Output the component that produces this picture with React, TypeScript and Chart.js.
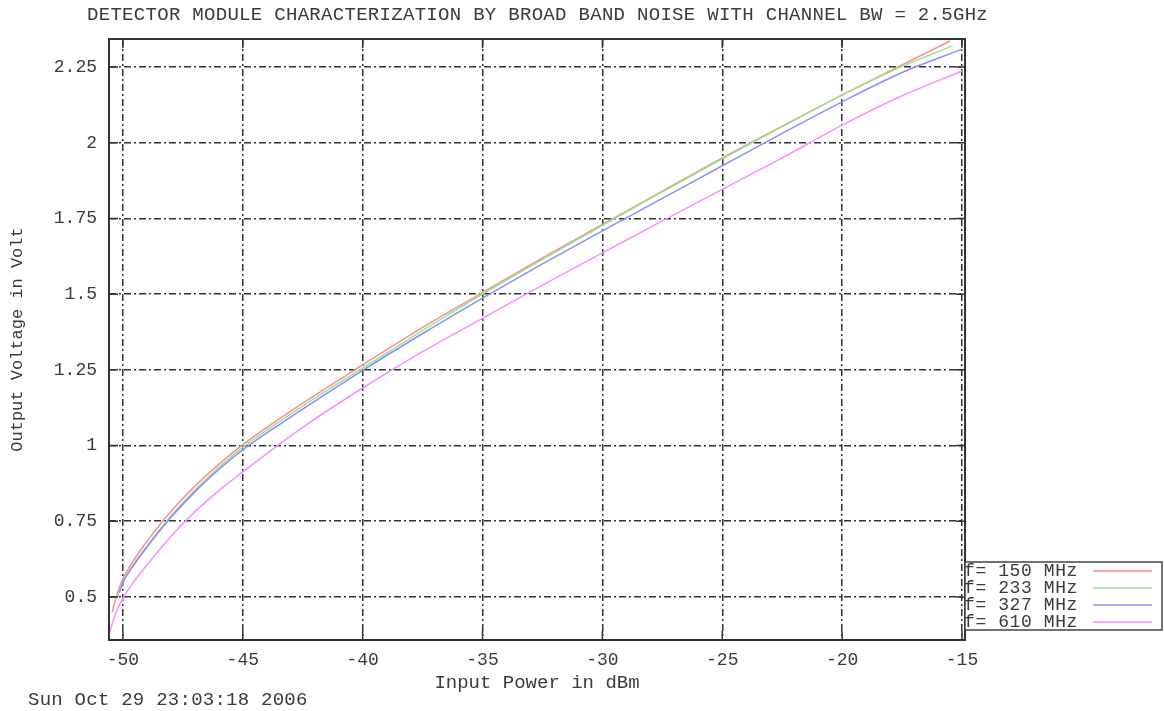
import React, { useEffect, useRef } from "react";
import { Chart, registerables } from "chart.js";

Chart.register(...registerables);

const TITLE = "DETECTOR MODULE CHARACTERIZATION BY BROAD BAND NOISE WITH CHANNEL BW = 2.5GHz";
const X_LABEL = "Input Power in dBm";
const Y_LABEL = "Output Voltage in Volt";
const TIMESTAMP = "Sun Oct 29 23:03:18 2006";

// Axis ticks
const xTicks = [-50, -45, -40, -35, -30, -25, -20, -15];
const yTicks = [0.5, 0.75, 1, 1.25, 1.5, 1.75, 2, 2.25];
const yTickLabels = ["0.5", "0.75", "1", "1.25", "1.5", "1.75", "2", "2.25"];

// Series labels and colours
const seriesNames = ["f= 150 MHz", "f= 233 MHz", "f= 327 MHz", "f= 610 MHz"];
const seriesColors = ["#ff8c8c", "#8ce88c", "#8c8cff", "#ff8cff"];

// f = 150 MHz
const power150 = [-50.45, -50.2, -50, -49.5, -49, -48, -47, -46, -45, -42.5, -40, -37.5, -35, -32.5, -30, -27.5, -25, -22.5, -20, -17.5, -15.5];
const volt150 = [0.45, 0.52, 0.56, 0.627, 0.683, 0.782, 0.866, 0.938, 1.003, 1.14, 1.266, 1.39, 1.505, 1.62, 1.73, 1.84, 1.95, 2.055, 2.158, 2.257, 2.336];

// f = 233 MHz
const power233 = [-50.22, -50, -49.5, -49, -48, -47, -46, -45, -42.5, -40, -37.5, -35, -32.5, -30, -27.5, -25, -22.5, -20, -17.5, -15.4];
const volt233 = [0.5, 0.55, 0.614, 0.668, 0.767, 0.853, 0.928, 0.994, 1.13, 1.256, 1.38, 1.5, 1.615, 1.727, 1.838, 1.947, 2.053, 2.157, 2.252, 2.32];

// f = 327 MHz
const power327 = [-50.15, -50, -49.5, -49, -48, -47, -46, -45, -42.5, -40, -37.5, -35, -32.5, -30, -27.5, -25, -22.5, -20, -17.5, -15];
const volt327 = [0.515, 0.548, 0.61, 0.664, 0.762, 0.847, 0.921, 0.986, 1.12, 1.248, 1.37, 1.487, 1.6, 1.709, 1.816, 1.924, 2.031, 2.135, 2.232, 2.309];

// f = 610 MHz
const power610 = [-50.55, -50.3, -50, -49.5, -49, -48, -47, -46, -45, -42.5, -40, -37.5, -35, -32.5, -30, -27.5, -25, -22.5, -20, -17.5, -15];
const volt610 = [0.385, 0.445, 0.495, 0.555, 0.605, 0.7, 0.781, 0.851, 0.913, 1.06, 1.19, 1.31, 1.42, 1.53, 1.636, 1.742, 1.846, 1.95, 2.058, 2.155, 2.237];

const powers = [power150, power233, power327, power610];
const volts = [volt150, volt233, volt327, volt610];

const MONO = '"Liberation Mono", "Courier New", monospace';
const INK = "#3a3a3a";

// Frame, inward tick marks, title, timestamp and key box
const decorations = {
  id: "decorations",
  afterDraw(chart: any) {
    const { ctx, chartArea: a, scales } = chart;
    const xs = scales.x;
    const ys = scales.y;
    ctx.save();

    // plot frame
    ctx.strokeStyle = "#333";
    ctx.lineWidth = 2;
    ctx.setLineDash([]);
    ctx.strokeRect(a.left, a.top, a.right - a.left, a.bottom - a.top);

    // mirrored inward tick marks
    const tl = 9;
    ctx.lineWidth = 1.5;
    ctx.beginPath();
    xTicks.forEach((v) => {
      const px = xs.getPixelForValue(v);
      ctx.moveTo(px, a.bottom);
      ctx.lineTo(px, a.bottom - tl);
      ctx.moveTo(px, a.top);
      ctx.lineTo(px, a.top + tl);
    });
    yTicks.forEach((v) => {
      const py = ys.getPixelForValue(v);
      ctx.moveTo(a.left, py);
      ctx.lineTo(a.left + tl, py);
      ctx.moveTo(a.right, py);
      ctx.lineTo(a.right - tl, py);
    });
    ctx.stroke();

    // title
    ctx.fillStyle = INK;
    ctx.font = `19px ${MONO}`;
    ctx.textBaseline = "middle";
    (ctx as any).letterSpacing = "0.3px";
    ctx.textAlign = "left";
    ctx.fillText(TITLE, 87, 15);

    // timestamp
    (ctx as any).letterSpacing = "0.25px";
    ctx.fillText(TIMESTAMP, 28, 700);
    (ctx as any).letterSpacing = "0px";

    // key
    const kx0 = 965;
    const ky0 = 562;
    const kx1 = 1162;
    const ky1 = 630;
    ctx.fillStyle = "#fff";
    ctx.fillRect(kx0, ky0, kx1 - kx0, ky1 - ky0);
    ctx.strokeStyle = "#444";
    ctx.lineWidth = 1.5;
    ctx.strokeRect(kx0, ky0, kx1 - kx0, ky1 - ky0);
    const rowY = [571, 588, 605, 622];
    ctx.font = `18px ${MONO}`;
    (ctx as any).letterSpacing = "0.6px";
    seriesNames.forEach((name, i) => {
      ctx.fillStyle = INK;
      ctx.fillText(name, 964, rowY[i]);
      ctx.strokeStyle = seriesColors[i];
      ctx.lineWidth = 1.5;
      ctx.beginPath();
      ctx.moveTo(1093, rowY[i]);
      ctx.lineTo(1152, rowY[i]);
      ctx.stroke();
    });
    (ctx as any).letterSpacing = "0px";

    ctx.restore();
  },
};

export default function App() {
  const canvasRef = useRef<HTMLCanvasElement | null>(null);

  useEffect(() => {
    document.body.style.margin = "0";
    const canvas = canvasRef.current;
    if (!canvas) return;

    const datasets = seriesNames.map((name, i) => ({
      label: name,
      data: powers[i].map((p, j) => ({ x: p, y: volts[i][j] })),
      borderColor: seriesColors[i],
      backgroundColor: seriesColors[i],
      borderWidth: 1.5,
      pointRadius: 0,
      fill: false,
      cubicInterpolationMode: "monotone" as const,
      order: 4 - i,
    }));

    const gridStyle = {
      color: "#333",
      lineWidth: 1.5,
      drawTicks: false,
    };

    const chart = new Chart(canvas, {
      type: "line",
      data: { datasets },
      options: {
        animation: false,
        responsive: false,
        events: [],
        layout: { padding: { top: 39, right: 199, bottom: 0, left: 0 } },
        plugins: {
          legend: { display: false },
          title: { display: false },
          tooltip: { enabled: false },
        },
        scales: {
          x: {
            type: "linear",
            min: -50.58,
            max: -14.875,
            afterFit: (scale: any) => {
              scale.height = 71;
            },
            afterBuildTicks: (scale: any) => {
              scale.ticks = xTicks.map((v) => ({ value: v }));
            },
            grid: gridStyle,
            border: { display: false, dash: [7, 3, 2, 3] },
            ticks: {
              padding: 9,
              color: INK,
              font: { family: MONO, size: 18 },
              maxRotation: 0,
              callback: (v: any) => String(v),
            },
            title: {
              display: true,
              text: X_LABEL,
              color: INK,
              font: { family: MONO, size: 19 },
              padding: { top: 0, bottom: 17 },
            },
          },
          y: {
            type: "linear",
            min: 0.3578,
            max: 2.3426,
            afterFit: (scale: any) => {
              scale.width = 109;
            },
            afterBuildTicks: (scale: any) => {
              scale.ticks = yTicks.map((v) => ({ value: v }));
            },
            grid: gridStyle,
            border: { display: false, dash: [7, 3, 2, 3] },
            ticks: {
              padding: 12,
              color: INK,
              font: { family: MONO, size: 18 },
              callback: (v: any) => {
                const k = yTicks.indexOf(Number(v));
                return k >= 0 ? yTickLabels[k] : "";
              },
            },
            title: {
              display: true,
              text: Y_LABEL,
              color: INK,
              font: { family: MONO, size: 17 },
              padding: { top: 7, bottom: 0 },
            },
          },
        },
      },
      plugins: [decorations],
    });

    return () => chart.destroy();
  }, []);

  return (
    <canvas
      ref={canvasRef}
      width={1164}
      height={711}
      style={{ display: "block", width: "1164px", height: "711px" }}
    />
  );
}
